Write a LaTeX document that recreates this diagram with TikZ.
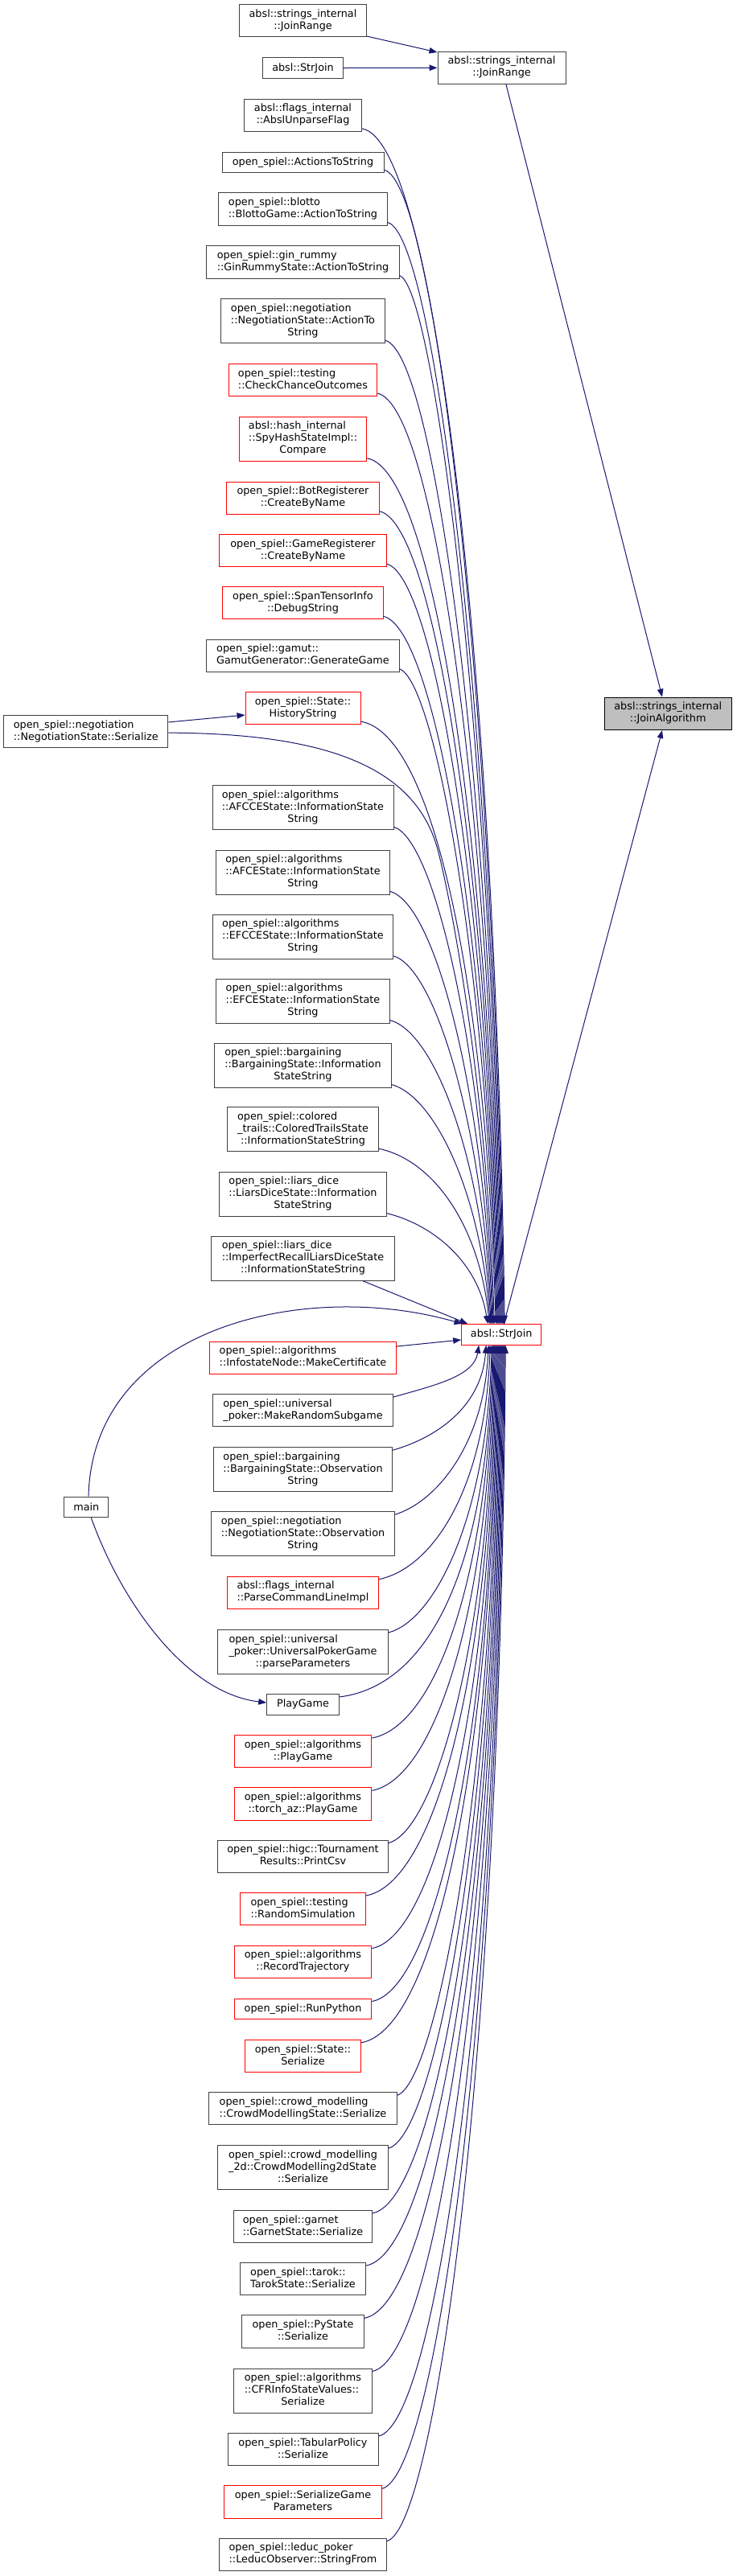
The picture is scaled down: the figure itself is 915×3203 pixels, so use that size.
\documentclass[tikz,border=0pt]{standalone}
\usepackage{fontspec}
\setmainfont{DejaVu Sans}
\usetikzlibrary{arrows.meta,calc}
\definecolor{edgecol}{HTML}{191970}
\definecolor{bordcol}{HTML}{404040}
\definecolor{rootfill}{HTML}{BFBFBF}
\newcommand\nf{\fontsize{9.6pt}{11.25pt}\selectfont}
\newcommand\ml[2]{\begin{tabular}{@{}l@{}}#1\\\multicolumn{1}{@{}c@{}}{#2}\end{tabular}}
\newcommand\N[7]{\node[#1, minimum width=#5*0.75pt, minimum height=#6*0.75pt] (#2) at (#3,#4) {#7};}
\newcommand\eab[2]{\draw[conn] let \p1=([yshift=3pt]#1.south east), \p2=([xshift=#2*0.75pt]sj.north west) in (\p1) .. controls (405pt,\y1-11pt) and (\x2-9pt,{\y2+0.55*(\y1-\y2)}) .. (\p2);}
\newcommand\ebe[2]{\draw[conn] let \p1=([yshift=-3pt]#1.north east), \p2=([xshift=#2*0.75pt]sj.south west) in (\p1) .. controls (405pt,\y1+11pt) and (\x2-4.5pt,{\y2-0.6*(\y2-\y1)}) .. (\p2);}
\tikzset{
 nb/.style={draw=bordcol, line width=0.75pt, fill=white, inner sep=0pt, font=\nf},
 nr/.style={nb, draw=red},
 nroot/.style={nb, draw=black, fill=rootfill},
 conn/.style={draw=edgecol, line width=0.75pt, -{Triangle[length=7.5pt,width=5.6pt]}},
}
\begin{document}
\begin{tikzpicture}[x=0.75pt,y=-0.75pt]
\fill[white] (0,0) rectangle (915,3203);
\useasboundingbox (0,0) rectangle (915,3203);
% column 1
\N{nb}{jr1}{376.5}{25.7}{157.6}{40.3}{\ml{absl::strings\_internal}{::JoinRange}}
\N{nb}{sja}{376.5}{84.5}{99.2}{25.6}{absl::StrJoin}
\N{nb}{unparse}{376.5}{143.3}{146}{40.3}{\ml{absl::flags\_internal}{::AbslUnparseFlag}}
\N{nb}{actions}{376.5}{202}{201}{25.6}{open\_spiel::ActionsToString}
\N{nb}{blotto}{376.5}{260}{210}{40.3}{\ml{open\_spiel::blotto}{::BlottoGame::ActionToString}}
\N{nb}{gin}{376.5}{326}{239.3}{40.3}{\ml{open\_spiel::gin\_rummy}{::GinRummyState::ActionToString}}
\N{nb}{negact}{376.5}{399.2}{203.3}{55}{\ml{open\_spiel::negotiation\\::NegotiationState::ActionTo}{String}}
\N{nr}{check}{376.5}{472.5}{184.7}{40.3}{\ml{open\_spiel::testing}{::CheckChanceOutcomes}}
\N{nr}{compare}{376.5}{545.8}{158.7}{55}{\ml{absl::hash\_internal\\::SpyHashStateImpl::}{Compare}}
\N{nr}{bot}{376.5}{619.2}{190}{40.3}{\ml{open\_spiel::BotRegisterer}{::CreateByName}}
\N{nr}{game}{376.5}{684.5}{207.3}{40.3}{\ml{open\_spiel::GameRegisterer}{::CreateByName}}
\N{nr}{span}{376.5}{749.7}{199.3}{40.3}{\ml{open\_spiel::SpanTensorInfo}{::DebugString}}
\N{nb}{gamut}{376.5}{815.2}{239.3}{40.3}{\ml{open\_spiel::gamut::}{GamutGenerator::GenerateGame}}
\N{nr}{hist}{376.5}{880.5}{143}{40.3}{\ml{open\_spiel::State::}{HistoryString}}
\N{nb}{afcce}{376.5}{1004.3}{225}{55}{\ml{open\_spiel::algorithms\\::AFCCEState::InformationState}{String}}
\N{nb}{afce}{376.5}{1084.5}{216}{55}{\ml{open\_spiel::algorithms\\::AFCEState::InformationState}{String}}
\N{nb}{efcce}{376.5}{1164.7}{224.3}{55}{\ml{open\_spiel::algorithms\\::EFCCEState::InformationState}{String}}
\N{nb}{efce}{376.5}{1244.5}{215.3}{55}{\ml{open\_spiel::algorithms\\::EFCEState::InformationState}{String}}
\N{nb}{barginfo}{376.5}{1324.5}{219.3}{55}{\ml{open\_spiel::bargaining\\::BargainingState::Information}{StateString}}
\N{nb}{colored}{376.5}{1404.3}{188.3}{55}{\ml{open\_spiel::colored\\\_trails::ColoredTrailsState}{::InformationStateString}}
\N{nb}{liars}{376.5}{1484.7}{208.3}{55}{\ml{open\_spiel::liars\_dice\\::LiarsDiceState::Information}{StateString}}
\N{nb}{imperfect}{376.5}{1564.5}{227.3}{55}{\ml{open\_spiel::liars\_dice\\::ImperfectRecallLiarsDiceState}{::InformationStateString}}
\N{nr}{makecert}{376.5}{1688.3}{232.3}{40.3}{\ml{open\_spiel::algorithms}{::InfostateNode::MakeCertificate}}
\N{nb}{randsub}{376.5}{1753.8}{223.3}{40.3}{\ml{open\_spiel::universal}{\_poker::MakeRandomSubgame}}
\N{nb}{bargobs}{376.5}{1827.2}{221.7}{55}{\ml{open\_spiel::bargaining\\::BargainingState::Observation}{String}}
\N{nb}{negobs}{376.5}{1907.2}{227.3}{55}{\ml{open\_spiel::negotiation\\::NegotiationState::Observation}{String}}
\N{nr}{parsecmd}{376.5}{1980.3}{188.3}{40.3}{\ml{absl::flags\_internal}{::ParseCommandLineImpl}}
\N{nb}{parseparams}{376.5}{2054}{211.2}{55}{\ml{open\_spiel::universal\\\_poker::UniversalPokerGame}{::parseParameters}}
\N{nb}{pg}{376.5}{2119.3}{89.5}{25.6}{PlayGame}
\N{nr}{algplay}{376.5}{2177.7}{170.8}{40.3}{\ml{open\_spiel::algorithms}{::PlayGame}}
\N{nr}{torch}{376.5}{2243}{170.8}{40.3}{\ml{open\_spiel::algorithms}{::torch\_az::PlayGame}}
\N{nb}{tourn}{376.5}{2308.3}{211.2}{40.3}{\ml{open\_spiel::higc::Tournament}{Results::PrintCsv}}
\N{nr}{randsim}{376.5}{2373.7}{155.2}{40.3}{\ml{open\_spiel::testing}{::RandomSimulation}}
\N{nr}{record}{376.5}{2439.2}{170.8}{40.3}{\ml{open\_spiel::algorithms}{::RecordTrajectory}}
\N{nr}{runpy}{376.5}{2497.8}{170.8}{25.6}{open\_spiel::RunPython}
\N{nr}{stateser}{376.5}{2556.5}{143.3}{40.3}{\ml{open\_spiel::State::}{Serialize}}
\N{nb}{crowd}{376.5}{2621.8}{233.7}{40.3}{\ml{open\_spiel::crowd\_modelling}{::CrowdModellingState::Serialize}}
\N{nb}{crowdtwo}{376.5}{2695.2}{211.3}{55}{\ml{open\_spiel::crowd\_modelling\\\_2d::CrowdModelling2dState}{::Serialize}}
\N{nb}{garnet}{376.5}{2768.5}{172.3}{40.3}{\ml{open\_spiel::garnet}{::GarnetState::Serialize}}
\N{nb}{tarok}{376.5}{2833.8}{155.3}{40.3}{\ml{open\_spiel::tarok::}{TarokState::Serialize}}
\N{nb}{pystate}{376.5}{2899}{151.3}{40.3}{\ml{open\_spiel::PyState}{::Serialize}}
\N{nb}{cfr}{376.5}{2972.5}{171.3}{55}{\ml{open\_spiel::algorithms\\::CFRInfoStateValues::}{Serialize}}
\N{nb}{tabular}{376.5}{3045.7}{187}{40.3}{\ml{open\_spiel::TabularPolicy}{::Serialize}}
\N{nr}{sergp}{376.5}{3111}{195.3}{40.3}{\ml{open\_spiel::SerializeGame}{Parameters}}
\N{nb}{leduc}{376.5}{3176.3}{207.3}{40.3}{\ml{open\_spiel::leduc\_poker}{::LeducObserver::StringFrom}}
% column 0
\N{nb}{negser}{106.8}{909.8}{204.3}{40.3}{\ml{open\_spiel::negotiation}{::NegotiationState::Serialize}}
\N{nb}{main}{107.3}{1873.9}{54.7}{25.6}{main}
% column 2 and 3
\N{nb}{jr2}{623.5}{84.3}{159}{40.3}{\ml{absl::strings\_internal}{::JoinRange}}
\N{nr}{sj}{623.2}{1659.3}{99}{25.6}{absl::StrJoin}
\N{nroot}{ja}{830.25}{887.3}{158.5}{40.3}{\ml{absl::strings\_internal}{::JoinAlgorithm}}
% edges top
\draw[conn] ([yshift=1pt]jr1.south east) -- ([yshift=-1pt]jr2.north west);
\draw[conn] (sja.east) -- (jr2.west);
\draw[conn] ([xshift=4.1pt]jr2.south) -- ([xshift=-5.4pt]ja.north);
\draw[conn] ([xshift=53*0.75pt]sj.north west) -- ([xshift=-5.4pt]ja.south);
% callers above StrJoin
\eab{unparse}{54}
\eab{actions}{53}
\eab{blotto}{52}
\eab{gin}{51}
\eab{negact}{50}
\eab{check}{49}
\eab{compare}{48}
\eab{bot}{47}
\eab{game}{46}
\eab{span}{45}
\eab{gamut}{44}
\eab{hist}{43}
\eab{afcce}{40}
\eab{afce}{39}
\eab{efcce}{38}
\eab{efce}{37}
\eab{barginfo}{36}
\eab{colored}{35}
\eab{liars}{33}
\draw[conn] ([xshift=-30pt]imperfect.south east) -- ([xshift=6pt]sj.north west);
\draw[conn] ([yshift=8.9pt]negser.east) -- ([yshift=-6.4pt]hist.west);
\draw[conn] ([yshift=-1pt]negser.east) .. controls (420,912) and (520,960) .. (545,1060) .. controls (570,1160) and (608,1400) .. ([xshift=41*0.75pt]sj.north west);
\draw[conn] ([xshift=2pt]main.north) .. controls (115,1650) and (380,1590) .. ([xshift=1pt]sj.north west);
\draw[conn] ([xshift=4.5pt]main.south) .. controls (150,1990) and (230,2105) .. ([yshift=1.7pt]pg.west);
% callers below StrJoin
\draw[conn] ([yshift=10.7pt]makecert.east) -- ([yshift=-5pt]sj.west);
\ebe{randsub}{22}
\ebe{bargobs}{31}
\ebe{negobs}{34}
\ebe{parsecmd}{36}
\ebe{parseparams}{38}
\ebe{pg}{39}
\ebe{algplay}{40}
\ebe{torch}{41}
\ebe{tourn}{42}
\ebe{randsim}{43}
\ebe{record}{44}
\ebe{runpy}{45}
\ebe{stateser}{46}
\ebe{crowd}{47}
\ebe{crowdtwo}{48}
\ebe{garnet}{49}
\ebe{tarok}{50}
\ebe{pystate}{51}
\ebe{cfr}{52}
\ebe{tabular}{53}
\ebe{sergp}{54}
\ebe{leduc}{55}
\end{tikzpicture}
\end{document}
